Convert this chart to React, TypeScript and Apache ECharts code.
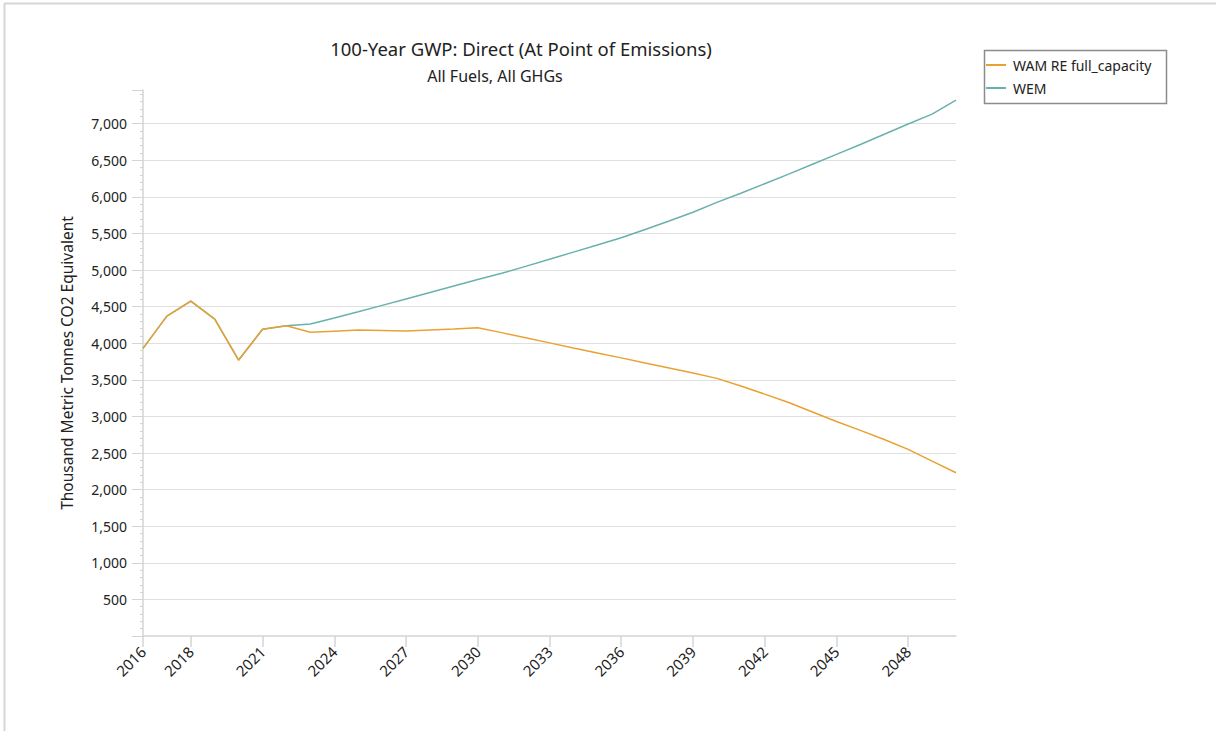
import React, { useEffect, useRef } from "react";
import * as echarts from "echarts";

const years: string[] = [
  "2016", "2017", "2018", "2019", "2020", "2021", "2022", "2023", "2024", "2025",
  "2026", "2027", "2028", "2029", "2030", "2031", "2032", "2033", "2034", "2035",
  "2036", "2037", "2038", "2039", "2040", "2041", "2042", "2043", "2044", "2045",
  "2046", "2047", "2048", "2049", "2050",
];

const wamReFullCapacity: number[] = [
  3930, 4371, 4576, 4330, 3770, 4190, 4239, 4149, 4165, 4180,
  4173, 4166, 4180, 4195, 4211, 4145, 4075, 4005, 3935, 3868,
  3800, 3730, 3662, 3592, 3520, 3415, 3305, 3190, 3060, 2930,
  2810, 2685, 2550, 2390, 2231,
];

const wem: number[] = [
  3930, 4371, 4576, 4330, 3770, 4190, 4239, 4262, 4345, 4430,
  4517, 4605, 4693, 4782, 4870, 4955, 5050, 5148, 5245, 5343,
  5442, 5555, 5670, 5790, 5925, 6050, 6180, 6310, 6445, 6580,
  6715, 6855, 6995, 7130, 7322,
];

const seriesNames: string[] = ["WAM RE full_capacity", "WEM"];
const titleText = "100-Year GWP: Direct (At Point of Emissions)";
const subtitleText = "All Fuels, All GHGs";
const yAxisName = "Thousand Metric Tonnes CO2 Equivalent";

const FONT = "'Noto Sans', 'Open Sans', sans-serif";
const ORANGE = "#E9A132";
const TEAL = "#69B1AC";

const showYear = (index: number, value: string) =>
  index === 0 || (Number(value) - 2018) % 3 === 0;

export default function App() {
  const ref = useRef<HTMLDivElement>(null);

  useEffect(() => {
    document.body.style.margin = "0";
    if (!ref.current) return;
    const chart = echarts.init(ref.current, null, { renderer: "svg" });
    chart.setOption({
      animation: false,
      backgroundColor: "#ffffff",
      grid: { left: 143, right: 260, top: 90, bottom: 95, containLabel: false },
      graphic: [
        {
          type: "line",
          shape: { x1: 4.5, y1: 3, x2: 4.5, y2: 731 },
          style: { stroke: "#d6d6d6", lineWidth: 2 },
        },
        {
          type: "line",
          shape: { x1: 4, y1: 3.5, x2: 1216, y2: 3.5 },
          style: { stroke: "#d6d6d6", lineWidth: 2 },
        },
        {
          type: "text",
          x: 521,
          y: 48,
          style: {
            text: titleText,
            font: `18.5px ${FONT}`,
            fill: "#222222",
            textAlign: "center",
            textVerticalAlign: "middle",
          },
        },
        {
          type: "text",
          x: 495,
          y: 76,
          style: {
            text: subtitleText,
            font: `16px ${FONT}`,
            fill: "#222222",
            textAlign: "center",
            textVerticalAlign: "middle",
          },
        },
        {
          type: "rect",
          shape: { x: 984.5, y: 50.5, width: 182, height: 53 },
          style: { fill: "none", stroke: "#8c8c8c", lineWidth: 1.5 },
        },
      ],
      legend: {
        data: seriesNames,
        orient: "vertical",
        left: 986,
        top: 58,
        icon: "rect",
        itemWidth: 20,
        itemHeight: 2,
        itemGap: 9,
        padding: 0,
        textStyle: {
          fontFamily: FONT,
          fontSize: 14,
          lineHeight: 14,
          color: "#222222",
          padding: [0, 0, 0, 2],
        },
      },
      xAxis: {
        type: "category",
        data: years,
        boundaryGap: false,
        axisLine: { lineStyle: { color: "#d4d4d4", width: 1.5 } },
        axisTick: {
          interval: showYear,
          length: 11,
          lineStyle: { color: "#d4d4d4", width: 1.5 },
        },
        axisLabel: {
          interval: showYear,
          rotate: 45,
          margin: 13,
          fontFamily: FONT,
          fontSize: 15,
          color: "#222222",
        },
        splitLine: { show: false },
      },
      yAxis: {
        type: "value",
        min: 0,
        max: 7460,
        interval: 500,
        name: yAxisName,
        nameLocation: "middle",
        nameGap: 68,
        nameRotate: 90,
        nameTextStyle: { fontFamily: FONT, fontSize: 15.5, color: "#222222" },
        axisLine: { show: true, lineStyle: { color: "#d4d4d4", width: 1.5 } },
        axisTick: { show: true, length: 11, lineStyle: { color: "#d4d4d4" } },
        minorTick: { show: true, splitNumber: 5, length: 3, lineStyle: { color: "#d4d4d4" } },
        axisLabel: {
          showMinLabel: false,
          showMaxLabel: false,
          margin: 16,
          fontFamily: FONT,
          fontSize: 14,
          color: "#222222",
          formatter: (v: number) => v.toLocaleString("en-US"),
        },
        splitLine: {
          show: true,
          showMinLine: false,
          showMaxLine: false,
          lineStyle: { color: "#e0e0e0", width: 1 },
        },
      },
      series: [
        {
          name: seriesNames[1],
          type: "line",
          data: wem,
          showSymbol: false,
          symbol: "none",
          color: TEAL,
          lineStyle: { color: TEAL, width: 1.5 },
          z: 2,
        },
        {
          name: seriesNames[0],
          type: "line",
          data: wamReFullCapacity,
          showSymbol: false,
          symbol: "none",
          color: ORANGE,
          lineStyle: { color: ORANGE, width: 1.5 },
          z: 3,
        },
      ],
    });
    return () => chart.dispose();
  }, []);

  return <div ref={ref} style={{ width: 1216, height: 731 }} />;
}
